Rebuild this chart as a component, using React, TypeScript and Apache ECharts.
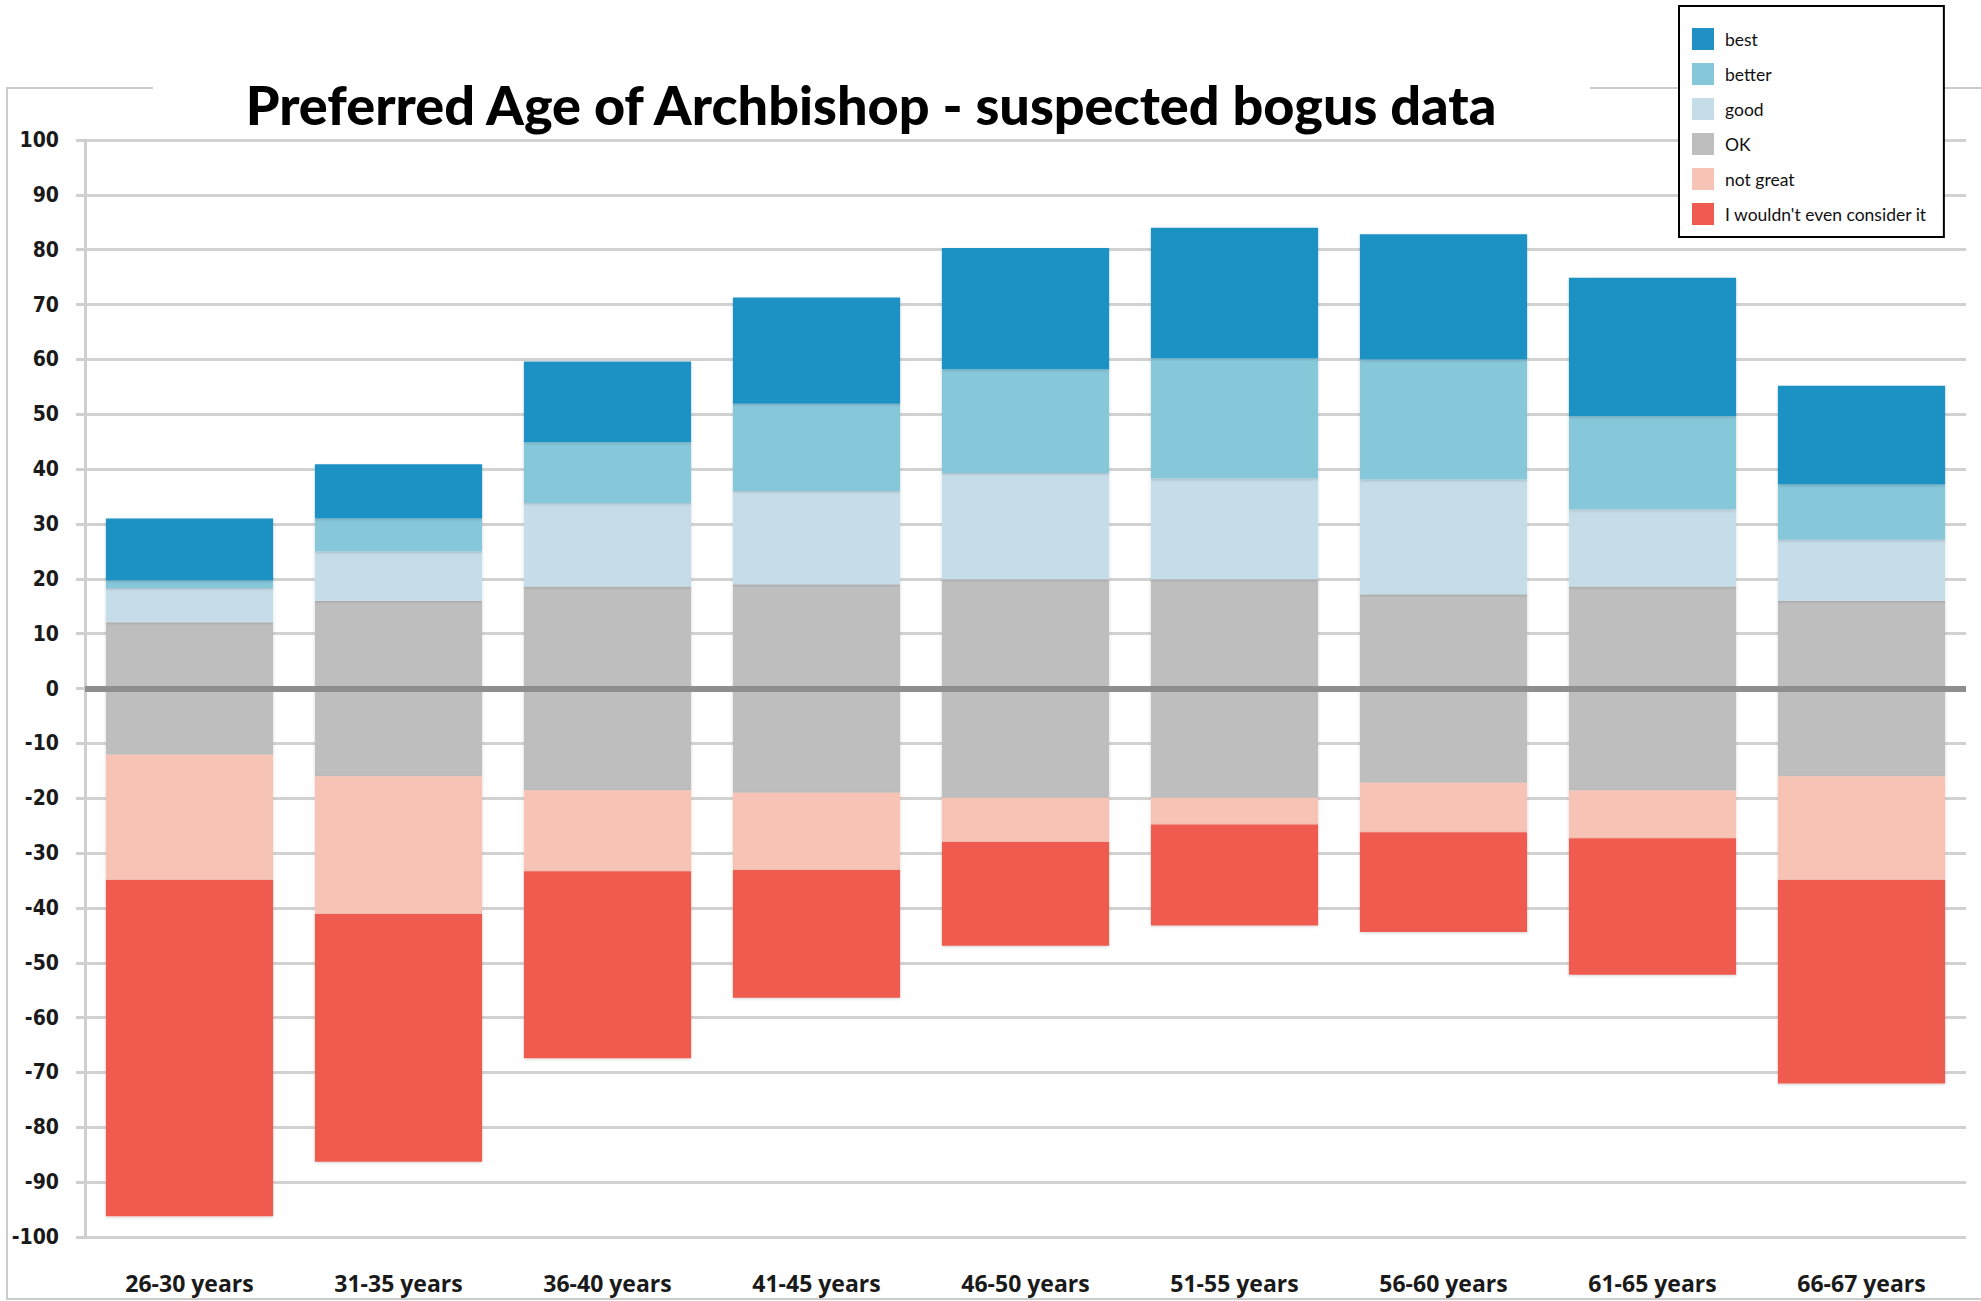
import React, { useEffect, useRef } from "react";
import * as echarts from "echarts";

const categories = [
  "26-30 years",
  "31-35 years",
  "36-40 years",
  "41-45 years",
  "46-50 years",
  "51-55 years",
  "56-60 years",
  "61-65 years",
  "66-67 years",
];

// Positive side (stacked upward from 0)
const okHalf = [12.1, 16, 18.6, 19, 19.9, 19.9, 17.2, 18.6, 16];
const good = [6.2, 9, 15.2, 17, 19.4, 18.4, 20.9, 14.1, 11.1];
const better = [1.4, 6, 11.1, 15.9, 18.9, 21.9, 21.9, 17, 10.1];
const best = [11.3, 9.9, 14.7, 19.4, 22.1, 23.8, 22.8, 25.2, 18];
// Negative side (stacked downward from 0)
const notGreat = [22.8, 25.1, 14.7, 14.1, 8.1, 4.9, 9, 8.7, 18.9];
const wouldntConsider = [61.3, 45.2, 34.1, 23.3, 18.9, 18.4, 18.2, 24.9, 37.1];

const legendNames = ["best", "better", "good", "OK", "not great", "I wouldn't even consider it"];
const colors: Record<string, string> = {
  best: "#1f91c4",
  better: "#87c7da",
  good: "#c5dde8",
  OK: "#bebebe",
  "not great": "#f6c3b5",
  "I wouldn't even consider it": "#ef5b50",
};

const titleText = "Preferred Age of Archbishop - suspected bogus data";

export default function App() {
  const ref = useRef<HTMLDivElement>(null);
  useEffect(() => {
    if (!ref.current) return;
    const chart = echarts.init(ref.current, null, { renderer: "svg" });
    const mk = (name: string, data: number[], extra: any = {}) => ({
      name,
      type: "bar",
      stack: "total",
      barWidth: "80%",
      data,
      itemStyle: {
        color: colors[name],
        shadowBlur: 3,
        shadowColor: "rgba(0,0,0,0.18)",
        shadowOffsetY: 1,
      },
      emphasis: { disabled: true },
      ...extra,
    });
    chart.setOption({
      animation: false,
      backgroundColor: "#ffffff",
      grid: { left: 85, right: 15, top: 140, bottom: 64, containLabel: false },
      legend: {
        data: legendNames,
        orient: "vertical",
        left: 1679,
        top: 6,
        padding: [22, 17, 12, 13],
        itemGap: 13,
        itemWidth: 22,
        itemHeight: 22,
        icon: "rect",
        backgroundColor: "#ffffff",
        borderColor: "#000000",
        borderWidth: 2,
        z: 20,
        textStyle: { fontFamily: "Lato", fontSize: 17.5, color: "#111111", padding: [0, 0, 0, 6] },
        selectedMode: false,
      },
      xAxis: {
        type: "category",
        data: categories,
        axisLine: { show: false },
        axisTick: { show: false },
        axisLabel: {
          margin: 34,
          fontFamily: "Open Sans",
          fontWeight: 700,
          fontSize: 23,
          color: "#1a1a1a",
        },
      },
      yAxis: {
        type: "value",
        min: -100,
        max: 100,
        interval: 10,
        axisLine: { show: true, lineStyle: { color: "#cfcfcf", width: 3 } },
        axisTick: { show: true, length: 9, lineStyle: { color: "#cfcfcf", width: 3 } },
        splitLine: { show: true, lineStyle: { color: "#d2d2d2", width: 3 } },
        axisLabel: {
          margin: 26,
          padding: [9, 0, 0, 0],
          fontFamily: "DejaVu Sans Condensed, DejaVu Sans",
          fontWeight: "bold",
          fontSize: 21,
          color: "#1a1a1a",
        },
      },
      graphic: [
        {
          type: "rect",
          z: -10,
          silent: true,
          shape: { x: 7, y: 88, width: 1990, height: 1211 },
          style: { fill: "none", stroke: "#cccccc", lineWidth: 2 },
        },
        {
          type: "rect",
          z: 50,
          silent: true,
          shape: { x: 153, y: 55, width: 1437, height: 84 },
          style: { fill: "#ffffff" },
        },
        {
          type: "text",
          z: 60,
          silent: true,
          x: 871,
          y: 104,
          style: {
            text: titleText,
            fontFamily: "Lato",
            fontWeight: 900,
            fontSize: 54,
            fill: "#000000",
            align: "center",
            verticalAlign: "middle",
          },
        },
      ],
      series: [
        mk("OK", okHalf, {
          markLine: {
            silent: true,
            symbol: "none",
            label: { show: false },
            lineStyle: { color: "#8e8e8e", width: 6, type: "solid" },
            data: [{ yAxis: 0 }],
            z: 10,
          },
        }),
        mk("good", good),
        mk("better", better),
        mk("best", best),
        mk("OK", okHalf.map((v) => -v)),
        mk("not great", notGreat.map((v) => -v)),
        mk("I wouldn't even consider it", wouldntConsider.map((v) => -v)),
      ],
    });
    return () => chart.dispose();
  }, []);
  return (
    <div
      ref={ref}
      style={{ position: "absolute", left: 0, top: 0, width: 1981, height: 1301 }}
    />
  );
}
